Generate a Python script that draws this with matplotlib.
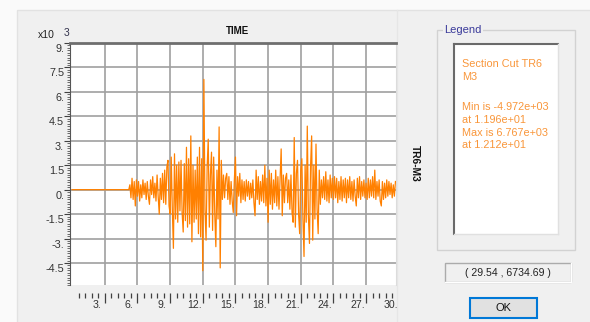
import matplotlib.pyplot as plt
import numpy as np
from matplotlib.patches import Rectangle
from matplotlib.transforms import ScaledTranslation

plt.rcParams['font.family'] = ['Liberation Sans', 'DejaVu Sans']

#___Datos (momento M3 en miles, muestreo cada 0.1 s desde t=5.0)
t_inicio = 5.0
dt = 0.1
m3 = [
    0, 0, 0, 0.3, -0.5, 0.7, -0.6, 0.5, -1.0, 0.6,            # 5
    -0.4, 0.5, -0.7, 0.3, -0.5, 0.6, -0.3, 0.4, -0.6, 0.5,    # 6
    -0.4, -0.9, 0.6, -0.3, 0.8, -0.5, 0.4, -0.7, 0.9, -0.4,   # 7
    -1.5, 0.7, -0.6, 1.0, -0.8, 1.2, -0.9, 1.4, 1.8, -1.0,    # 8
    -1.5, 2.0, -1.2, -3.6, 2.2, -1.8, 1.5, -2.0, 1.7, -1.3,   # 9
    1.8, -1.4, -2.6, 1.6, -1.9, 2.6, -2.3, 1.9, -2.1, 3.3,    # 10
    -3.2, 1.5, -2.0, 1.2, -1.8, 2.0, -2.7, 2.6, -2.9, 1.9,    # 11
    -4.972, 6.767, -1.2, -3.1, 1.4, 3.1, -2.3, 0.9, 2.3, -2.5,  # 12
    2.0, -1.5, -3.5, 1.2, -1.8, 3.85, -4.8, 1.8, -0.6, 0.9,   # 13
    -0.5, 0.7, 1.0, -0.6, 0.8, -0.9, 0.5, -0.7, -1.4, 0.6,    # 14
    2.0, -1.6, 0.8, -0.4, 1.0, -0.8, 0.6, -0.6, 0.5, -0.7,    # 15
    0.6, -0.4, 0.5, -0.6, 0.4, -0.5, 0.6, -0.8, -1.6, 1.2,    # 16
    -0.6, 0.8, -0.9, 0.5, -0.7, 0.9, -0.8, 1.5, -1.0, 0.7,    # 17
    -2.0, 1.2, -0.9, 1.0, -1.2, 0.6, -0.8, 1.2, -1.0, 0.8,    # 18
    -1.2, 0.6, 2.5, -1.6, 0.9, -0.8, 0.7, 1.0, -0.8, 0.6,     # 19
    -1.2, 0.9, -1.4, -2.0, 3.2, -2.3, 1.0, 1.8, -1.5, -2.7,   # 20
    1.2, 1.9, -1.8, -4.1, 1.5, -2.0, 3.9, -1.6, -3.3, 1.4,    # 21
    3.3, -3.1, 1.5, -1.8, 2.8, -1.2, -2.7, 1.2, -0.9, 0.6,    # 22
    -0.5, 0.8, -0.6, 1.1, -0.7, 0.6, -0.8, 0.9, -0.5, 0.7,    # 23
    -0.6, 0.8, -0.5, 0.7, -0.8, 0.5, -0.6, 0.8, -0.7, 0.6,    # 24
    -0.5, 0.7, -0.8, 0.6, -0.5, 0.8, -0.6, 0.5, -0.7, 0.6,    # 25
    -0.4, -1.0, 0.7, -0.5, 0.8, -0.6, 0.5, -0.4, 0.6, -0.5,   # 26
    0.4, -0.6, 0.7, -0.5, 0.6, -0.4, 0.8, -0.5, 1.2, -0.6,    # 27
    0.5, -0.4, 0.6, -0.7, -1.0, 0.5, -0.6, 0.4, -0.5, 0.6,    # 28
    -0.4, 0.5, -0.3, 0.4, -0.5, 0.3, -0.4, 0.5,               # 29
]
tiempo = np.concatenate([[0.0], t_inicio + dt * np.arange(len(m3))])
valores = [0.0] + m3

yticks = [9, 7.5, 6, 4.5, 3, 1.5, 0, -1.5, -3, -4.5]
yticklabels = ['9.', '7.5', '6.', '4.5', '3.', '1.5', '0.', '-1.5', '-3.', '-4.5']
xticks = [3, 6, 9, 12, 15, 18, 21, 24, 27, 30]
xticklabels = ['3.', '6.', '9.', '12.', '15.', '18.', '21.', '24.', '27.', '30.']

leyenda = ['Section Cut TR6', 'M3', 'Min is -4.972e+03', 'at 1.196e+01',
           'Max is 6.767e+03', 'at 1.212e+01']
cursor = '( 29.54 , 6734.69 )'

naranja = '#ff8000'
naranja_txt = '#f9963a'

#___Figura
fig = plt.figure(figsize=(5.9, 3.22), dpi=100, facecolor='#fafafa')

# fondo tipo ventana, en pixeles
bg = fig.add_axes([0, 0, 1, 1], zorder=0)
bg.set_xlim(0, 590)
bg.set_ylim(322, 0)
bg.axis('off')
bg.add_patch(Rectangle((17, 10), 580, 320, facecolor='#f0f0f0', edgecolor='#e2e2e2', lw=1))
bg.plot([397, 397], [10, 322], color='#e6e6e6', lw=1)

# textos del grafico
bg.text(38, 35, 'x10', fontsize=7.5, color='#222222', va='center')
bg.text(64, 32.5, '3', fontsize=7.5, color='#33334d', va='center')
bg.text(237, 31, 'TIME', fontsize=7, fontweight='bold', color='#111111', ha='center', va='center')
bg.text(415, 163, 'TR6-M3', fontsize=7.4, fontweight='bold', color='#111111',
        rotation=270, ha='center', va='center')

# cuadro de leyenda
bg.add_patch(Rectangle((437, 30), 138, 220, facecolor='none', edgecolor='#d2d2d2', lw=1))
bg.text(444, 30, 'Legend', fontsize=8, color='#3a3a9a', va='center',
        bbox=dict(facecolor='#f0f0f0', edgecolor='none', pad=1))
bg.add_patch(Rectangle((454, 44), 104, 190, facecolor='white', edgecolor='none'))
bg.plot([454, 558], [44, 44], color='#6a6a6a', lw=1.5)
bg.plot([454, 454], [44, 234], color='#6a6a6a', lw=1.5)
bg.plot([558, 558], [44, 234], color='#e0e0e0', lw=1)
bg.plot([454, 558], [234, 234], color='#e0e0e0', lw=1)
filas_y = [64, 77, 107, 119.5, 132.5, 145]
for fy, linea in zip(filas_y, leyenda):
    bg.text(462, fy, linea, fontsize=7.8, color=naranja_txt, va='center')

# lectura del cursor
bg.add_patch(Rectangle((445, 263), 126, 19, facecolor='#f0f0f0', edgecolor='#ababab', lw=1))
bg.plot([445, 571], [282, 282], color='white', lw=1)
bg.plot([571, 571], [263, 282], color='white', lw=1)
bg.text(508, 272.5, cursor, fontsize=7.6, color='#222222', ha='center', va='center')

# boton OK
bg.add_patch(Rectangle((470, 298), 67, 20, facecolor='#e1e1e1', edgecolor='#0078d7', lw=1.5))
bg.text(503.5, 308, 'OK', fontsize=8, color='#111111', ha='center', va='center')

#___Grafico
ax = fig.add_axes([70 / 590, 37 / 322, 326 / 590, 242 / 322], zorder=1)
ax.set_facecolor('white')
ax.plot(tiempo, valores, color=naranja, lw=0.9, zorder=3)
ax.set_xlim(-0.2, 29.75)
ax.set_ylim(-5.85, 9.0)

ax.set_yticks(yticks)
ax.set_yticklabels([])
ax.set_yticks(np.arange(-5.85, 9.01, 0.15), minor=True)
ax.set_xticks(xticks[:-1])
ax.set_xticks(np.arange(0.6, 29.7, 0.6), minor=True)
ax.set_xticklabels([])

ax.grid(True, which='major', color='#a0a0a0', lw=1.2)
ax.set_axisbelow(True)

ax.tick_params(axis='y', which='major', direction='out', length=4, width=0.8, color='#404040')
ax.tick_params(axis='y', which='minor', direction='out', length=2.2, width=0.6, color='#555555')
ax.tick_params(axis='x', which='major', direction='out', length=7, width=0.9, color='#404040')
ax.tick_params(axis='x', which='minor', direction='out', length=3.5, width=0.9, color='#404040')

ax.spines['bottom'].set_position(('outward', 6))
ax.spines['bottom'].set_visible(False)
ax.spines['top'].set_color('#6e6e6e')
ax.spines['top'].set_linewidth(2)
ax.spines['left'].set_color('#555555')
ax.spines['left'].set_linewidth(0.8)
ax.spines['right'].set_color('#dcdcdc')

# etiquetas de los ejes, corridas como en el original (x a la izquierda, y hacia abajo)
for xt, lab in zip(xticks, xticklabels):
    ax.text(xt - 0.75, -0.083, lab, transform=ax.get_xaxis_transform(), fontsize=7.6,
            color='#333333', ha='center', va='center', clip_on=False)

abajo = ScaledTranslation(0, -0.06, fig.dpi_scale_trans)
for yt, lab in zip(yticks, yticklabels):
    ax.text(-0.018, yt, lab, transform=ax.get_yaxis_transform() + abajo, fontsize=7.8,
            color='#333333', ha='right', va='center', clip_on=False)

plt.savefig('out.png', dpi=100, facecolor=fig.get_facecolor())
